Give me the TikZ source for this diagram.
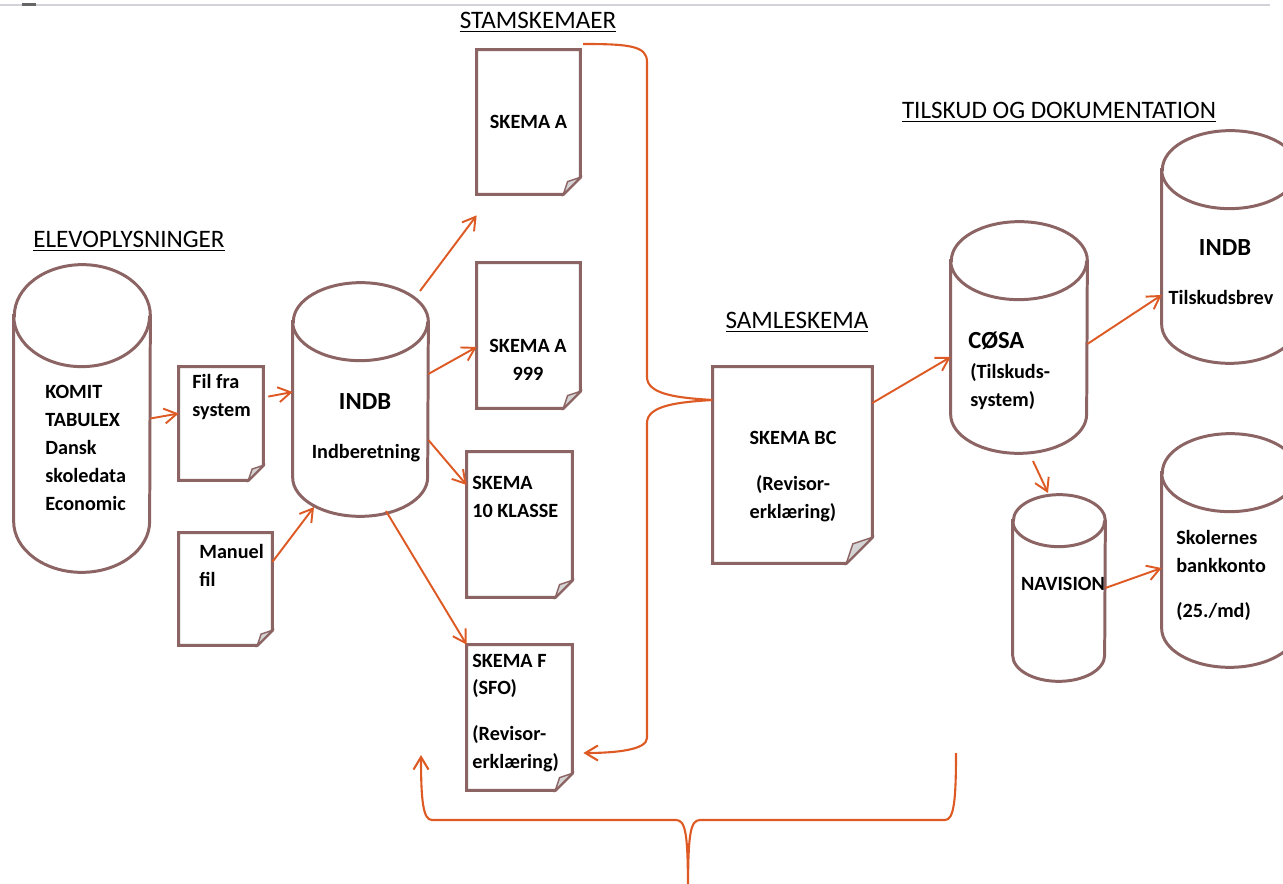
\documentclass[tikz,border=0pt]{standalone}
\usepackage{fontspec}
\setmainfont{Carlito}
\usepackage{tikz}
\usetikzlibrary{arrows.meta, calc}
\definecolor{mauve}{HTML}{8C6464}
\definecolor{rust}{HTML}{DE5A24}
\definecolor{fold}{HTML}{D4D4D4}
\definecolor{edge}{HTML}{D2D3D8}
\tikzstyle{drum} = [rectangle, 
inner sep=0pt]
\tikzstyle{drumline} = [draw=mauve, line width=1.7pt]
\tikzstyle{paper} = [rectangle, 
fill=white, 
inner sep=0pt,
font=\bfseries\fontsize{11.5}{15.9}\selectfont]
\tikzstyle{paperline} = [draw=mauve, line width=1.7pt]
\tikzstyle{head} = [font=\fontsize{14.3}{17}\selectfont, inner sep=0pt]
\tikzstyle{txt} = [font=\bfseries\fontsize{11.5}{15.9}\selectfont, align=left, inner sep=0pt]
\tikzstyle{big} = [font=\bfseries\fontsize{14}{17}\selectfont, inner sep=0pt]
\tikzstyle{arrow} = [draw=rust, line width=1.1pt, -{Straight Barb[length=2.5mm,width=3mm]}]
\tikzstyle{bracket} = [draw=rust, line width=1.2pt]

\begin{document}
\begin{tikzpicture}
\useasboundingbox (0,0) rectangle (25.66,-17.68);
\clip (0,0) rectangle (25.66,-17.68);
\draw [edge, line width=0.9pt] (0,-0.1) -- (25.4,-0.1);
\draw [black!60, line width=1.2pt] (0.44,-0.09) -- (0.72,-0.09);

% headings
\node (stam) [head, xshift=10.76cm, yshift=-0.44cm] {\underline{STAMSKEMAER}};
\node (elev) [head, xshift=2.58cm, yshift=-4.82cm] {\underline{ELEVOPLYSNINGER}};
\node (saml) [head, xshift=15.94cm, yshift=-6.44cm] {\underline{SAMLESKEMA}};
\node (tilsk) [head, xshift=21.18cm, yshift=-2.24cm] {\underline{TILSKUD OG DOKUMENTATION}};

% databases
\node (komit) [drum, minimum width=2.72cm, minimum height=6.14cm, xshift=1.64cm, yshift=-8.37cm] {};
\node (indbL) [drum, minimum width=2.70cm, minimum height=4.66cm, xshift=7.21cm, yshift=-7.99cm] {};
\node (cosa) [drum, minimum width=2.72cm, minimum height=4.62cm, xshift=20.38cm, yshift=-6.75cm] {};
\node (indbR) [drum, minimum width=2.72cm, minimum height=4.64cm, xshift=24.6cm, yshift=-4.94cm] {};
\node (nav) [drum, minimum width=1.84cm, minimum height=3.72cm, xshift=21.18cm, yshift=-11.76cm] {};
\node (skol) [drum, minimum width=2.72cm, minimum height=4.66cm, xshift=24.6cm, yshift=-11.01cm] {};

\foreach \c/\w/\r in {komit/1.36/1.02, indbL/1.35/0.78, cosa/1.36/0.78, indbR/1.36/0.78, nav/0.92/0.52, skol/1.36/0.78} {
  \draw [drumline, fill=white] ($(\c.north west)+(0,-\r)$) -- ($(\c.south west)+(0,\r)$) arc [start angle=180, end angle=360, x radius=\w, y radius=\r] -- ($(\c.north east)+(0,-\r)$) arc [start angle=0, end angle=180, x radius=\w, y radius=\r] -- cycle;
  \draw [drumline] ($(\c.north west)+(0,-\r)$) arc [start angle=180, end angle=360, x radius=\w, y radius=\r];
}

% documents
\node (filfra) [paper, minimum width=1.68cm, minimum height=2.26cm, xshift=4.42cm, yshift=-8.47cm] {};
\node (manuel) [paper, minimum width=1.86cm, minimum height=2.24cm, xshift=4.51cm, yshift=-11.78cm] {};
\node (skA) [paper, minimum width=2.06cm, minimum height=2.88cm, xshift=10.57cm, yshift=-2.44cm] {SKEMA A};
\node (skA999) [paper, minimum width=2.06cm, minimum height=2.90cm, xshift=10.57cm, yshift=-6.71cm] {};
\node (sk10) [paper, minimum width=2.10cm, minimum height=2.90cm, xshift=10.39cm, yshift=-10.49cm] {};
\node (skF) [paper, minimum width=2.10cm, minimum height=2.90cm, xshift=10.39cm, yshift=-14.35cm] {};
\node (skBC) [paper, minimum width=3.18cm, minimum height=3.92cm, xshift=15.85cm, yshift=-9.30cm] {};

\foreach \d/\f in {filfra/0.3, manuel/0.3, skA/0.34, skA999/0.34, sk10/0.34, skF/0.34, skBC/0.52} {
  \draw [paperline] (\d.north west) -- (\d.north east) -- ($(\d.south east)+(0,\f)$) -- ($(\d.south east)+(-\f,0)$) -- (\d.south west) -- cycle;
  \draw [paperline, fill=fold, line width=0.8pt] ($(\d.south east)+(0,\f)$) -- ($(\d.south east)+(-\f,0)$) -- ($(\d.south east)+(-0.75*\f,0.75*\f)$) -- cycle;
}

% texts
\node (komitT) [txt, anchor=west, xshift=0.9cm, yshift=-8.96cm] {KOMIT\\TABULEX\\Dansk\\skoledata\\Economic};
\node (filT) [txt, anchor=west, xshift=3.84cm, yshift=-7.94cm] {Fil fra\\system};
\node (manT) [txt, anchor=west, xshift=3.98cm, yshift=-11.3cm] {Manuel\\fil};
\node (indbLa) [big, xshift=7.3cm, yshift=-8.04cm] {INDB};
\node (indbLb) [txt, xshift=7.32cm, yshift=-9.06cm] {Indberetning};
\node (skA999T) [txt, align=center, xshift=10.56cm, yshift=-7.2cm] {SKEMA A\\999};
\node (sk10T) [txt, anchor=west, xshift=9.44cm, yshift=-9.94cm] {SKEMA\\10 KLASSE};
\node (skFT) [txt, anchor=west, xshift=9.44cm, yshift=-14.26cm] {SKEMA F\\(SFO)\\[0.36cm](Revisor-\\erklæring)};
\node (skBCT) [txt, align=center, xshift=15.86cm, yshift=-9.54cm] {SKEMA BC\\[0.36cm](Revisor-\\erklæring)};
\node (cosaA) [big, anchor=west, xshift=19.36cm, yshift=-6.82cm] {CØSA};
\node (cosaB) [txt, anchor=west, xshift=19.4cm, yshift=-7.73cm] {(Tilskuds-\\system)};
\node (indbRa) [big, xshift=24.5cm, yshift=-4.96cm] {INDB};
\node (indbRb) [txt, xshift=24.42cm, yshift=-5.94cm] {Tilskudsbrev};
\node (navT) [txt, xshift=21.26cm, yshift=-11.68cm] {NAVISION};
\node (skolT) [txt, anchor=west, xshift=23.52cm, yshift=-11.51cm] {Skolernes\\bankkonto\\[0.36cm](25./md)};

% brace ends
\coordinate (brTop) at (11.66,-0.88);
\coordinate (brL) at (8.42,-15.1);
\coordinate (brR) at (19.12,-15.06);
\coordinate (brBot) at (13.76,-17.9);

\draw [arrow] (komit.east) -- ([yshift=0.2cm]filfra.west);
\draw [arrow, shorten <=0.1cm] ([yshift=0.52cm]filfra.east) -- ([yshift=0.15cm]indbL.west);
\draw [arrow] ([yshift=0.54cm]manuel.east) -- ($(indbL)+(-0.93,-2.15)$);
\draw [arrow] ($(indbL)+(1.19,2.17)$) -- ([yshift=-0.42cm]skA.south west);
\draw [arrow] ([yshift=0.51cm]indbL.east) -- ([yshift=-0.23cm]skA999.west);
\draw [arrow] ([yshift=-0.81cm]indbL.east) -- ([yshift=0.79cm]sk10.west);
\draw [arrow] ($(indbL)+(0.51,-2.23)$) -- (skF.north west);
\draw [arrow] ([yshift=1.24cm]skBC.east) -- ([yshift=-0.39cm]cosa.west);
\draw [arrow] ([yshift=-0.13cm]cosa.east) -- ([yshift=-0.96cm]indbR.west);
\draw [arrow] ($(cosa)+(0.28,-2.47)$) -- ($(nav)+(-0.22,1.9)$);
\draw [arrow] (nav.east) -- ([yshift=-0.35cm]skol.west);

\draw [arrow, bracket, shorten >=0.22cm] (brTop) .. controls (12.6,-0.88) and (12.94,-0.92) .. (12.94,-1.24) -- (12.94,-7.54) .. controls (12.94,-7.9) and (13.6,-7.96) .. ([yshift=1.3cm]skBC.west) .. controls (13.6,-8.04) and (12.94,-8.1) .. (12.94,-8.46) -- (12.94,-14.76) .. controls (12.94,-15.0) and (12.3,-15.06) .. ([yshift=-0.71cm]skF.east);
\draw [arrow, bracket] (brR) .. controls (19.12,-16.0) and (19.08,-16.4) .. (18.9,-16.4) -- (14.0,-16.4) .. controls (13.8,-16.4) and (13.76,-16.7) .. (brBot) .. controls (13.76,-16.7) and (13.72,-16.4) .. (13.52,-16.4) -- (8.64,-16.4) .. controls (8.46,-16.4) and (8.42,-16.0) .. (brL);

\end{tikzpicture}
\end{document}
